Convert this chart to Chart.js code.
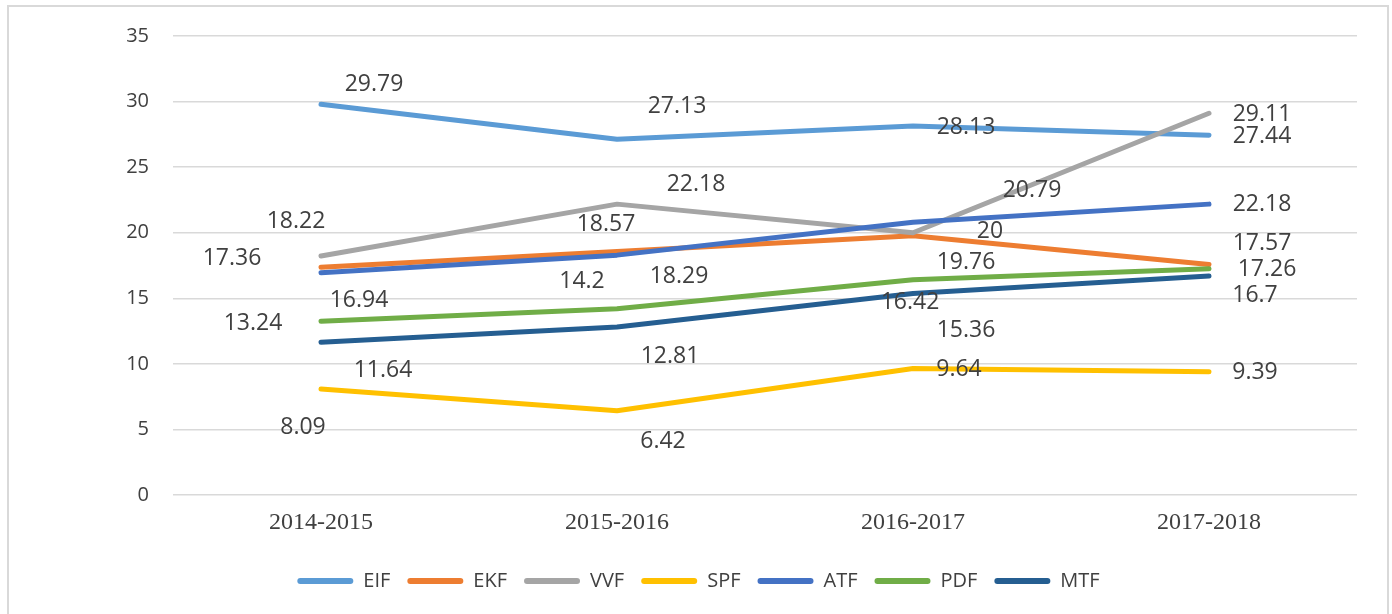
<!DOCTYPE html>
<html>
<head>
<meta charset="utf-8">
<script src="https://cdn.jsdelivr.net/npm/chart.js@4.4.1/dist/chart.umd.min.js"></script>
<style>
  html, body { margin: 0; padding: 0; background: #fff; }
  #wrap { width: 1392px; height: 614px; position: relative; }
</style>
</head>
<body>
<div id="wrap"><canvas id="chart"></canvas></div>
<script>
// values
const years = ['2014-2015', '2015-2016', '2016-2017', '2017-2018'];
const eif = [29.79, 27.13, 28.13, 27.44];
const ekf = [17.36, 18.57, 19.76, 17.57];
const vvf = [18.22, 22.18, 20, 29.11];
const spf = [8.09, 6.42, 9.64, 9.39];
const atf = [16.94, 18.29, 20.79, 22.18];
const pdf = [13.24, 14.2, 16.42, 17.26];
const mtf = [11.64, 12.81, 15.36, 16.7];
const yTicks = [0, 5, 10, 15, 20, 25, 30, 35];

const seriesNames = ['EIF', 'EKF', 'VVF', 'SPF', 'ATF', 'PDF', 'MTF'];
const seriesValues = [eif, ekf, vvf, spf, atf, pdf, mtf];
const seriesColors = ['#5B9BD5', '#ED7D31', '#A5A5A5', '#FFC000', '#4472C4', '#70AD47', '#255E91'];

// where each data label sits relative to its point (px), as in the original
const labelOffsets = [
    [[53, -20], [60, -33], [53, 1], [53, 1]],
    [[-89, -9], [-11, -27], [53, 27], [53, -21]],
    [[-25, -35], [79, -20], [77, -1], [53, 1]],
    [[-18, 39], [46, 31], [46, 1], [46, 1]],
    [[38, 28], [62, 21], [119, -32], [53, 0]],
    [[-68, 2], [-35, -27], [-3, 23], [58, 1]],
    [[62, 28], [53, 29], [53, 37], [46, 19]]
];

const textColor = '#404040';

const frame = {
    id: 'frame',
    beforeDraw(chart) {
        const ctx = chart.ctx;
        ctx.save();
        ctx.fillStyle = '#fff';
        ctx.fillRect(0, 0, chart.width, chart.height);
        ctx.strokeStyle = '#d9d9d9';
        ctx.lineWidth = 2;
        ctx.strokeRect(8, 6, 1380, 640);
        ctx.restore();
    }
};

// legend in the original sits a bit right of where chart.js centres it
const legendShift = {
    id: 'legendShift',
    afterLayout(chart) {
        chart.legend.left += 20;
        chart.legend.right += 20;
    }
};

const valueLabels = {
    id: 'valueLabels',
    afterDatasetsDraw(chart) {
        const ctx = chart.ctx;
        ctx.save();
        ctx.font = '23px "Open Sans"';
        ctx.fillStyle = textColor;
        ctx.textAlign = 'center';
        ctx.textBaseline = 'middle';
        chart.data.datasets.forEach((ds, i) => {
            chart.getDatasetMeta(i).data.forEach((pt, j) => {
                const off = labelOffsets[i][j];
                ctx.fillText(String(ds.data[j]), pt.x + off[0], pt.y + off[1]);
            });
        });
        ctx.restore();
    }
};

new Chart(document.getElementById('chart'), {
    type: 'line',
    data: {
        labels: years,
        datasets: seriesNames.map((name, i) => ({
            label: name,
            data: seriesValues[i],
            borderColor: seriesColors[i],
            backgroundColor: seriesColors[i],
            borderWidth: 5,
            borderCapStyle: 'round',
            borderJoinStyle: 'round',
            pointRadius: 0,
            tension: 0,
            fill: false,
            order: seriesNames.length - i
        }))
    },
    options: {
        responsive: true,
        maintainAspectRatio: false,
        animation: false,
        layout: { padding: { top: 31, right: 35, bottom: 13, left: 0 } },
        plugins: {
            tooltip: { enabled: false },
            legend: {
                position: 'bottom',
                labels: {
                    boxWidth: 56,
                    boxHeight: 6,
                    padding: 17,
                    color: textColor,
                    useBorderRadius: true,
                    font: { family: '"Open Sans"', size: 20 },
                    generateLabels: chart => chart.data.datasets.map((ds, i) => ({
                        text: ds.label,
                        fillStyle: ds.borderColor,
                        strokeStyle: ds.borderColor,
                        lineWidth: 0,
                        borderRadius: 3,
                        fontColor: textColor,
                        hidden: false,
                        datasetIndex: i
                    }))
                }
            }
        },
        scales: {
            x: {
                offset: true,
                grid: { display: false, drawTicks: false },
                border: { display: false },
                ticks: {
                    color: textColor,
                    padding: 13,
                    font: { family: '"Liberation Serif"', size: 24 }
                },
                afterFit: scale => { scale.height = 59; }
            },
            y: {
                min: 0,
                max: 35,
                afterBuildTicks: scale => { scale.ticks = yTicks.map(v => ({ value: v })); },
                grid: { color: '#d9d9d9', lineWidth: 1.5, drawTicks: false },
                border: { display: false },
                ticks: {
                    color: textColor,
                    padding: 24,
                    font: { family: '"Open Sans"', size: 20 }
                },
                afterFit: scale => { scale.width = 173; }
            }
        }
    },
    plugins: [frame, legendShift, valueLabels]
});
</script>
</body>
</html>
